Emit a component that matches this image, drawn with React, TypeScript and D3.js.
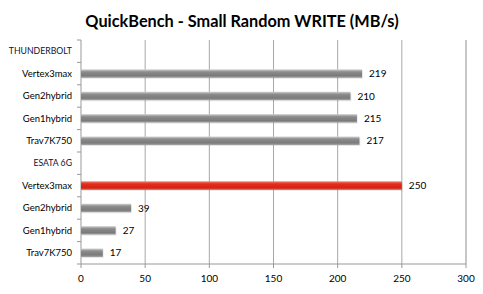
import React from "react";
import * as d3 from "d3";

const categories = [
  "THUNDERBOLT",
  "Vertex3max",
  "Gen2hybrid",
  "Gen1hybrid",
  "Trav7K750",
  "ESATA 6G",
  "Vertex3max",
  "Gen2hybrid",
  "Gen1hybrid",
  "Trav7K750",
];
const values: (number | null)[] = [null, 219, 210, 215, 217, null, 250, 39, 27, 17];
const highlighted = [false, false, false, false, false, false, true, false, false, false];
const xTicks = [0, 50, 100, 150, 200, 250, 300];
const title = "QuickBench - Small Random WRITE (MB/s)";

const W = 483;
const H = 294;
const left = 81;
const right = 466;
const top = 40;
const bottom = 264;
const font = "Lato, 'Open Sans', sans-serif";

export default function App() {
  const x = d3.scaleLinear().domain([0, 300]).range([left, right]);
  const idx = categories.map((_, i) => String(i));
  const y = d3.scaleBand().domain(idx).range([top, bottom]).paddingInner(0.62).paddingOuter(0.31);
  const step = y.step();

  return (
    <svg width={W} height={H} style={{ position: "absolute", left: 0, top: 0, background: "#fff" }}>
      <defs>
        <linearGradient id="gray" x1="0" y1="0" x2="0" y2="1">
          <stop offset="0" stopColor="#d0d0d0" />
          <stop offset="0.3" stopColor="#8c8c8c" />
          <stop offset="0.75" stopColor="#7a7a7a" />
          <stop offset="1" stopColor="#a8a8a8" />
        </linearGradient>
        <linearGradient id="red" x1="0" y1="0" x2="0" y2="1">
          <stop offset="0" stopColor="#f2806e" />
          <stop offset="0.3" stopColor="#e32d1c" />
          <stop offset="0.75" stopColor="#d42414" />
          <stop offset="1" stopColor="#e8604c" />
        </linearGradient>
      </defs>
      <text x={242} y={27} textAnchor="middle" fontFamily={font} fontWeight="bold" fontSize={16.3} fill="#000">
        {title}
      </text>
      {xTicks.map((t) => (
        <g key={t}>
          {t > 0 && (
            <line x1={x(t)} x2={x(t)} y1={top} y2={bottom} stroke={t === 300 ? "#b4b4b4" : "#a8a8a8"} strokeWidth={t === 300 ? 1.5 : 1} />
          )}
          <line x1={x(t)} x2={x(t)} y1={bottom} y2={bottom + 4} stroke="#999" />
          <text x={x(t)} y={282} textAnchor="middle" fontFamily={font} fontSize={10} fill="#000">
            {t}
          </text>
        </g>
      ))}
      <line x1={left} x2={left} y1={top} y2={bottom} stroke="#999" />
      <line x1={left} x2={right} y1={bottom} y2={bottom} stroke="#999" />
      {d3.range(categories.length + 1).map((i) => (
        <line key={"t" + i} x1={left - 4} x2={left} y1={top + i * step} y2={top + i * step} stroke="#999" />
      ))}
      {categories.map((c, i) => {
        const v = values[i];
        const yc = (y(String(i)) as number) + y.bandwidth() / 2;
        const header = v === null;
        return (
          <g key={i}>
            <text
              x={72}
              y={yc}
              dy="0.35em"
              textAnchor="end"
              fontFamily={font}
              fontSize={header ? 8.7 : 9.5}
              fill={header ? "#10103a" : "#000"}
            >
              {c}
            </text>
            {!header && (
              <>
                <rect
                  x={x(0) + 1}
                  y={(y(String(i)) as number) + 1}
                  width={x(v as number) - x(0)}
                  height={y.bandwidth()}
                  fill="#000"
                  opacity={0.08}
                />
                <rect
                  x={x(0)}
                  y={y(String(i))}
                  width={x(v as number) - x(0)}
                  height={y.bandwidth()}
                  fill={highlighted[i] ? "url(#red)" : "url(#gray)"}
                />
                <text x={x(v as number) + 7} y={yc} dy="0.35em" fontFamily={font} fontSize={10} fill="#000">
                  {v}
                </text>
              </>
            )}
          </g>
        );
      })}
    </svg>
  );
}
